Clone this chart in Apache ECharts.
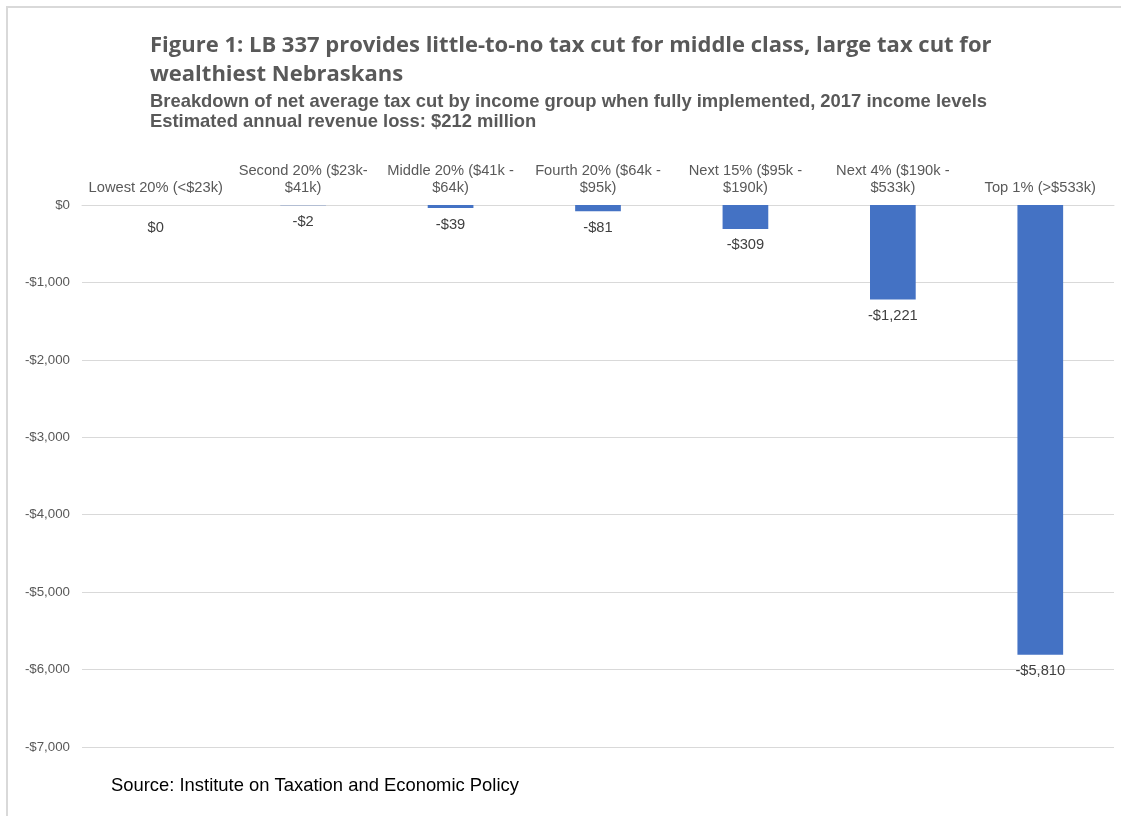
<!DOCTYPE html>
<html>
<head>
<meta charset="utf-8">
<script src="https://cdn.jsdelivr.net/npm/echarts@6/dist/echarts.min.js"></script>
<style>
html,body{margin:0;padding:0;background:#fff;}
#chart{width:1121px;height:816px;}
</style>
</head>
<body>
<div id="chart"></div>
<script>
const categories = [
  "Lowest 20% (<$23k)",
  "Second 20% ($23k-\n$41k)",
  "Middle 20% ($41k -\n$64k)",
  "Fourth 20% ($64k -\n$95k)",
  "Next 15% ($95k -\n$190k)",
  "Next 4% ($190k -\n$533k)",
  "Top 1% (>$533k)"
];
const taxCut = [0, -2, -39, -81, -309, -1221, -5810];
const yMin = -7000, yMax = 0, yStep = 1000;
const titleText = "Figure 1: LB 337 provides little-to-no tax cut for middle class, large tax cut for\nwealthiest Nebraskans";
const subtitleText = "Breakdown of net average tax cut by income group when fully implemented, 2017 income levels\nEstimated annual revenue loss: $212 million";
const sourceText = "Source: Institute on Taxation and Economic Policy";

function money(v) {
  const a = Math.abs(v).toLocaleString('en-US');
  return (v < 0 ? '-$' : '$') + a;
}

const barData = taxCut.map(v => v === 0 ? {value: v, label: {distance: 15}} : v);

const chart = echarts.init(document.getElementById('chart'), null, {renderer: 'canvas'});
chart.setOption({
  animation: false,
  backgroundColor: '#fff',
  graphic: [{
    type: 'rect', silent: true,
    shape: {x: 7, y: 7, width: 1300, height: 1000},
    style: {fill: 'none', stroke: '#d9d9d9', lineWidth: 2}
  }],
  title: [
    {
      text: titleText, left: 150, top: 31, padding: 0,
      textStyle: {fontFamily: '"Open Sans", sans-serif', fontWeight: 'bold', fontSize: 22, color: '#595959', lineHeight: 29}
    },
    {
      text: subtitleText, left: 150, top: 92, padding: 0,
      textStyle: {fontFamily: '"Liberation Sans", Arial, sans-serif', fontWeight: 'bold', fontSize: 18.4, color: '#595959', lineHeight: 20}
    },
    {
      text: sourceText, left: 111, top: 776, padding: 0,
      textStyle: {fontFamily: '"Liberation Sans", Arial, sans-serif', fontWeight: 'normal', fontSize: 18.4, color: '#000', lineHeight: 20}
    }
  ],
  grid: {left: 82, right: 7, top: 205, bottom: 69, containLabel: false},
  xAxis: {
    type: 'category', position: 'top', data: categories,
    axisLine: {show: true, lineStyle: {color: '#d9d9d9', width: 1}},
    axisTick: {show: false},
    axisLabel: {interval: 0, color: '#595959', fontSize: 14.7, fontFamily: '"Liberation Sans", Arial, sans-serif', margin: 9, lineHeight: 17}
  },
  yAxis: {
    type: 'value', min: yMin, max: yMax, interval: yStep,
    axisLine: {show: false}, axisTick: {show: false},
    splitLine: {lineStyle: {color: '#d9d9d9', width: 1}},
    axisLabel: {formatter: money, color: '#595959', fontSize: 13.3, fontFamily: '"Liberation Sans", Arial, sans-serif', margin: 12}
  },
  series: [{
    type: 'bar', data: barData, barWidth: '31%',
    itemStyle: {color: '#4472C4'},
    label: {
      show: true, position: 'bottom', distance: 9,
      formatter: p => money(p.value),
      color: '#404040', fontSize: 14.7, fontFamily: '"Liberation Sans", Arial, sans-serif'
    }
  }]
});
</script>
</body>
</html>
